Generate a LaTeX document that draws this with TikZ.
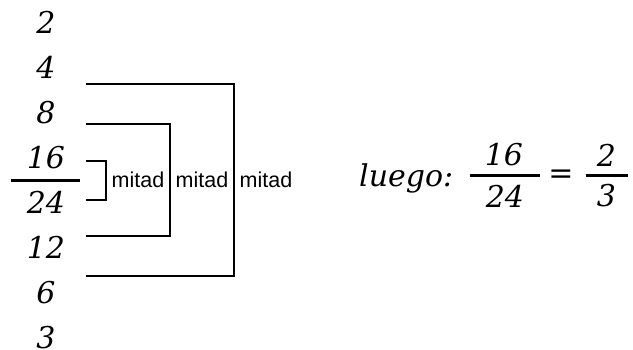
\documentclass[tikz,border=0pt]{standalone}
\usepackage{fontspec}
\setmainfont{DejaVu Serif}
\newfontfamily\labelfont{Liberation Sans}
\usetikzlibrary{positioning, calc}

\begin{document}
\begin{tikzpicture}[
 x=1pt, y=1pt,
 node distance=22.5pt,
 num/.style={inner sep=0pt, text height=22pt, text depth=0pt, font=\fontsize{30}{36}\selectfont\itshape},
 lbl/.style={inner xsep=5.5pt, inner ysep=2pt, font=\fontsize{21.5}{26}\selectfont\labelfont},
 brk/.style={line width=2pt, line join=miter},
 bar/.style={line width=3pt}
]
\useasboundingbox (0,0) rectangle (633,350);

% column of numbers
\node[num] (n2) at (46,327) {2};
\node[num, below=of n2] (n4) {4};
\node[num, below=of n4] (n8) {8};
\node[num, below=of n8] (n16) {16};
\node[num, below=of n16] (n24) {24};
\node[num, below=of n24] (n12) {12};
\node[num, below=of n12] (n6) {6};
\node[num, below=of n6] (n3) {3};

\coordinate (mid) at ($(n16)!.5!(n24)$);
\draw[bar] ($(mid)+(-35,0)$) -- ($(mid)+(34,0)$);

% bracket ends
\coordinate (tip) at (86,0);
\coordinate (a16) at ($(n16 -| tip)+(0,-3)$);
\coordinate (b24) at ($(n24 -| tip)+(0,3)$);
\coordinate (a8) at ($(n8 -| tip)+(0,-11)$);
\coordinate (b12) at ($(n12 -| tip)+(0,11)$);
\coordinate (a4) at ($(n4 -| tip)+(0,-16)$);
\coordinate (b6) at ($(n6 -| tip)+(0,16)$);

\node[lbl, right=60pt of mid] (m1) {mitad};
\node[lbl, right=0pt of m1] (m2) {mitad};
\node[lbl, right=0pt of m2] (m3) {mitad};

\draw[brk] (a16) -| (m1.west) |- (b24);
\draw[brk] (a8) -| (m2.west) |- (b12);
\draw[brk] (a4) -| (m3.west) |- (b6);

% result
\node[num, anchor=base west] (luego) at (359,163) {luego:};
\node[num] (r16) at (504,195) {16};
\node[num] (r24) at (505,153) {24};
\coordinate (rmid) at ($(r16)!.5!(r24)$);
\draw[bar] ($(rmid)+(-35,0)$) -- ($(rmid)+(35,0)$);
\node[num] (eq) at (561,177) {=};
\node[num] (r2) at (606.5,194) {2};
\node[num] (r3) at (606.5,154) {3};
\coordinate (rmid2) at ($(r2)!.5!(r3)$);
\draw[bar] ($(rmid2)+(-21,0)$) -- ($(rmid2)+(21,0)$);
\end{tikzpicture}
\end{document}
